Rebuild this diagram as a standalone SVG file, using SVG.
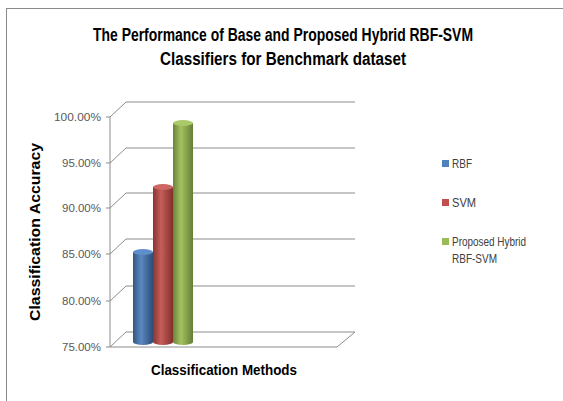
<svg xmlns="http://www.w3.org/2000/svg" width="563" height="401" viewBox="0 0 563 401">
<style>
.grid{fill:none;stroke:#8c8c8c;stroke-width:1}
.ax{font-family:"Liberation Sans",Arial,sans-serif;font-size:11.5px;fill:#595959;text-anchor:end}
.lg{font-family:"Liberation Sans",Arial,sans-serif;font-size:13px;fill:#404040}
.tt{font-family:"Liberation Sans",Arial,sans-serif;font-weight:bold;fill:#000;text-anchor:middle}
</style>
<defs>
<linearGradient id="gb" x1="0" x2="1" y1="0" y2="0"><stop offset="0" stop-color="#34577f"/><stop offset="0.4" stop-color="#5a89c2"/><stop offset="1" stop-color="#2d4d76"/></linearGradient>
<linearGradient id="gr" x1="0" x2="1" y1="0" y2="0"><stop offset="0" stop-color="#8a3431"/><stop offset="0.4" stop-color="#c55e5a"/><stop offset="1" stop-color="#822e2b"/></linearGradient>
<linearGradient id="gg" x1="0" x2="1" y1="0" y2="0"><stop offset="0" stop-color="#6b843b"/><stop offset="0.4" stop-color="#a3c260"/><stop offset="1" stop-color="#657d35"/></linearGradient>
</defs>
<rect x="0" y="0" width="563" height="401" fill="#fff"/>
<rect x="6.5" y="8.5" width="620" height="420" fill="#fff" stroke="#8a8a8a" stroke-width="1"/>
<g id="title">
<text class="tt" x="283" y="41" font-size="18" textLength="380" lengthAdjust="spacingAndGlyphs">The Performance of Base and Proposed Hybrid RBF-SVM</text>
<text class="tt" x="283" y="65" font-size="18" textLength="246" lengthAdjust="spacingAndGlyphs">Classifiers for Benchmark dataset</text>
</g>
<g id="axes">
<path class="grid" d="M110,117 L126,102 H355 M110,163 L126,148 H355 M110,208 L126,193 H355 M110,254 L126,239 H355 M110,301 L126,286 H355 M110,347 L126,332 H355 M110,347 H337 L355,332 M110,117 V347 M106,117 H110 M106,163 H110 M106,208 H110 M106,254 H110 M106,301 H110 M106,347 H110"/>
<text class="ax" x="101" y="121" textLength="47" lengthAdjust="spacingAndGlyphs">100.00%</text>
<text class="ax" x="101" y="167">95.00%</text>
<text class="ax" x="101" y="212">90.00%</text>
<text class="ax" x="101" y="258">85.00%</text>
<text class="ax" x="101" y="305">80.00%</text>
<text class="ax" x="101" y="351">75.00%</text>
<text class="tt" transform="translate(40,232) rotate(-90)" font-size="15" textLength="178" lengthAdjust="spacingAndGlyphs">Classification Accuracy</text>
<text class="tt" x="224" y="375" font-size="15" textLength="146" lengthAdjust="spacingAndGlyphs">Classification Methods</text>
</g>
<g id="bar-rbf">
<ellipse cx="143" cy="342" rx="10" ry="3" fill="url(#gb)"/>
<rect x="133" y="252" width="20" height="90" fill="url(#gb)"/>
<ellipse cx="143" cy="252" rx="10" ry="3" fill="#5f8fca"/>
</g>
<g id="bar-svm">
<ellipse cx="163" cy="342" rx="10" ry="3" fill="url(#gr)"/>
<rect x="153" y="187" width="20" height="155" fill="url(#gr)"/>
<ellipse cx="163" cy="187" rx="10" ry="3" fill="#cd6763"/>
</g>
<g id="bar-hybrid">
<ellipse cx="183" cy="342" rx="10" ry="3" fill="url(#gg)"/>
<rect x="173" y="123" width="20" height="219" fill="url(#gg)"/>
<ellipse cx="183" cy="123" rx="10" ry="3" fill="#aac968"/>
</g>
<g id="legend">
<rect x="442" y="160" width="7" height="7" fill="#4f81bd"/>
<text class="lg" x="452" y="168" textLength="20" lengthAdjust="spacingAndGlyphs">RBF</text>
<rect x="442" y="199" width="7" height="7" fill="#c0504d"/>
<text class="lg" x="452" y="207" textLength="24" lengthAdjust="spacingAndGlyphs">SVM</text>
<rect x="442" y="238" width="7" height="7" fill="#9bbb59"/>
<text class="lg" x="452" y="246" textLength="74" lengthAdjust="spacingAndGlyphs">Proposed Hybrid</text>
<text class="lg" x="452" y="263" textLength="45" lengthAdjust="spacingAndGlyphs">RBF-SVM</text>
</g>
</svg>
